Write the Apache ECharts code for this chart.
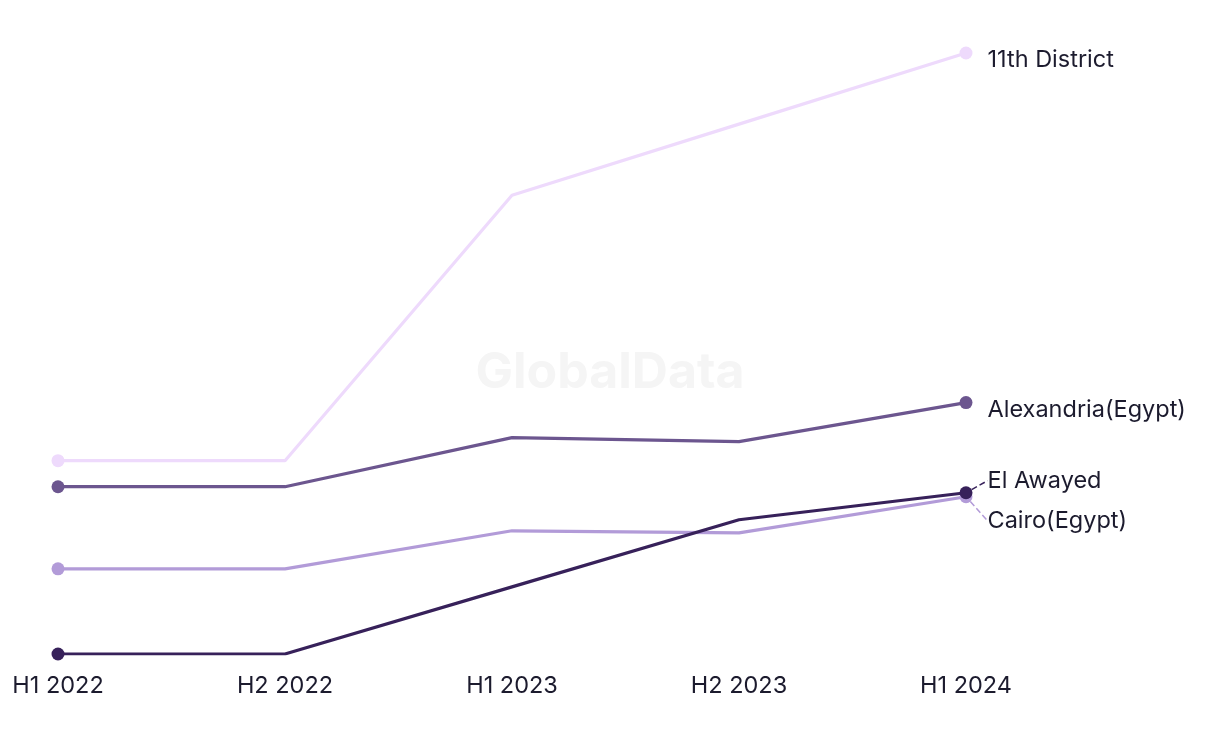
<!DOCTYPE html>
<html><head><meta charset="utf-8">
<script src="https://cdn.jsdelivr.net/npm/echarts@6/dist/echarts.min.js"></script>
<style>html,body{margin:0;padding:0;background:#fff}#c{width:1220px;height:744px}</style>
</head><body><div id="c"></div>
<script>
const categories = ['H1 2022', 'H2 2022', 'H1 2023', 'H2 2023', 'H1 2024'];
const district11 = [19.3, 19.3, 45.8, 52.9, 60.0];
const alexandria = [16.7, 16.7, 21.6, 21.2, 25.1];
const cairo = [8.5, 8.5, 12.3, 12.1, 15.7];
const elAwayed = [0.0, 0.0, 6.7, 13.4, 16.1];

const chart = echarts.init(document.getElementById('c'));
const last = categories.length - 1;
const txt = '#1c1b2e';
function mk(name, vals, color, dy, guide) {
  return {
    name: name, type: 'line', data: vals.map((v, i) => i === last ? {
      value: v,
      label: {show: true, formatter: name, position: 'right', distance: 15, color: txt,
        fontSize: 23.5, fontFamily: 'Inter, "Noto Sans", sans-serif'}
    } : v),
    color: color, lineStyle: {width: 3.2, color: color},
    symbol: 'circle', showAllSymbol: true,
    symbolSize: (v, p) => (p.dataIndex === 0 || p.dataIndex === last) ? 13 : 0,
    itemStyle: {color: color},
    labelLine: {show: guide, lineStyle: {type: 'dashed', color: color, width: 1.5}},
    labelLayout: {dy: dy},
    emphasis: {disabled: true}, silent: true, z: 2
  };
}
chart.setOption({
  animation: false,
  grid: {left: 58, right: 254, top: 53, bottom: 90},
  graphic: [{type: 'text', left: 'center', top: 348, z: 0,
    style: {text: 'GlobalData', fontSize: 50, fontWeight: 'bold', fill: '#f5f5f5',
      fontFamily: 'Inter, sans-serif'}}],
  xAxis: {type: 'category', data: categories, boundaryGap: false,
    axisLine: {show: false}, axisTick: {show: false}, splitLine: {show: false},
    axisLabel: {color: txt, fontSize: 23.5, margin: 20, fontFamily: 'Inter, "Noto Sans", sans-serif'}},
  yAxis: {type: 'value', min: 0, max: 60, show: false},
  series: [
    mk('11th District', district11, '#eedafc', 7, false),
    mk('Alexandria(Egypt)', alexandria, '#6c568f', 7, false),
    mk('Cairo(Egypt)', cairo, '#b29bd8', 24, true),
    mk('El Awayed', elAwayed, '#37215a', -12, true)
  ]
});
</script></body></html>
